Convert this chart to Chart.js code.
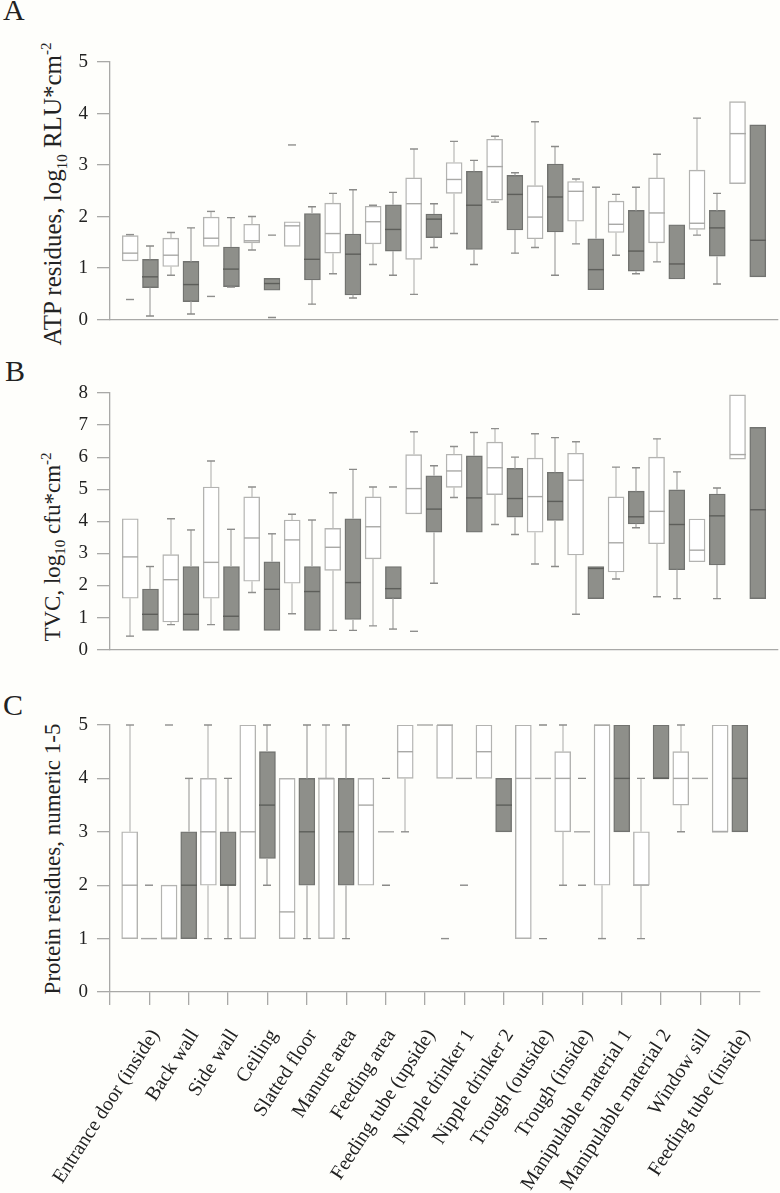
<!DOCTYPE html>
<html>
<head>
<meta charset="utf-8">
<script src="https://cdn.jsdelivr.net/npm/chart.js@4.4.1/dist/chart.umd.min.js"></script>
<style>
html,body{margin:0;padding:0;background:#fefefb;}
#wrap{position:relative;width:780px;height:1193px;overflow:hidden;font-family:"Liberation Serif","Times New Roman",serif;color:#222;background:#fefefb;}
canvas.cv{position:absolute;left:0;}
.letter{position:absolute;font-size:30px;line-height:30px;}
.ytitle{position:absolute;font-size:23px;line-height:23px;white-space:nowrap;transform:translate(-50%,-50%) rotate(-90deg);}
.ytitle sub,.ytitle sup{font-size:15px;line-height:0;}
</style>
</head>
<body>
<div id="wrap">
  <div class="letter" style="left:3px;top:-5px;">A</div>
  <div class="letter" style="left:5px;top:356px;">B</div>
  <div class="letter" style="left:3px;top:690px;">C</div>
  <div class="ytitle" style="left:52px;top:194px;font-size:25px;line-height:25px;">ATP residues, log<sub>10</sub> RLU*cm<sup>-2</sup></div>
  <div class="ytitle" style="left:52px;top:547px;">TVC, log<sub>10</sub> cfu*cm<sup>-2</sup></div>
  <div class="ytitle" style="left:52px;top:859px;">Protein residues, numeric 1-5</div>
  <canvas id="cA" class="cv" width="780" height="340" style="top:0px;"></canvas>
  <canvas id="cB" class="cv" width="780" height="330" style="top:340px;"></canvas>
  <canvas id="cC" class="cv" width="780" height="523" style="top:670px;"></canvas>
</div>
<script>
// ---------- categories ----------
const categories = ["Entrance door (inside)","Back wall","Side wall","Ceiling","Slatted floor","Manure area","Feeding area","Feeding tube (upside)","Nipple drinker 1","Nipple drinker 2","Trough (outside)","Trough (inside)","Manipulable material 1","Manipulable material 2","Window sill","Feeding tube (inside)"];

// ---------- Panel A: ATP residues ----------
const atpYTicks = [0,1,2,3,4,5];
const atpWhiteQ1  = [1.14,1.03,1.42,1.49,1.42,1.29,1.47,1.17,2.45,2.32,1.57,1.91,1.69,1.49,1.75,2.64];
const atpWhiteQ3  = [1.63,1.58,1.99,1.85,1.90,2.26,2.20,2.75,3.05,3.50,2.60,2.68,2.30,2.75,2.90,4.23];
const atpWhiteMed = [1.29,1.25,1.58,1.53,1.82,1.67,1.90,2.25,2.72,2.97,1.99,2.49,1.85,2.07,1.87,3.61];
const atpWhiteMin = [1.14,0.86,1.42,1.35,1.42,0.89,1.07,0.49,1.67,2.28,1.40,1.47,1.25,1.12,1.64,2.64];
const atpWhiteMax = [1.65,1.69,2.10,2.00,1.90,2.45,2.22,3.31,3.46,3.56,3.84,2.73,2.43,3.21,3.91,4.23];
const atpWhiteOut = [[0.39],[],[0.45],[],[3.39],[],[],[],[],[],[],[],[],[],[],[]];
const atpGrayQ1   = [0.62,0.35,0.64,0.57,0.77,0.48,1.33,1.59,1.36,1.74,1.70,0.58,0.94,0.79,1.23,0.83];
const atpGrayQ3   = [1.17,1.13,1.41,0.80,2.06,1.66,2.23,2.05,2.88,2.80,3.02,1.57,2.12,1.84,2.12,3.78];
const atpGrayMed  = [0.83,0.68,0.98,0.70,1.17,1.27,1.75,1.95,2.22,2.43,2.38,0.97,1.33,1.08,1.78,1.54];
const atpGrayMin  = [0.07,0.11,0.63,0.57,0.30,0.42,0.86,1.40,1.07,1.29,0.86,0.58,0.89,0.79,0.69,0.83];
const atpGrayMax  = [1.43,1.78,1.98,0.80,2.19,2.52,2.47,2.25,3.09,2.85,3.36,2.57,2.57,1.84,2.45,3.78];
const atpGrayOut  = [[],[],[],[1.64,0.04],[],[],[],[],[],[],[],[],[],[],[],[]];

// ---------- Panel B: TVC ----------
const tvcYTicks = [0,1,2,3,4,5,6,7,8];
const tvcWhiteQ1  = [1.60,0.86,1.60,2.13,2.07,2.47,2.83,4.23,5.06,4.83,3.66,2.95,2.42,3.30,2.74,5.94];
const tvcWhiteQ3  = [4.08,2.96,5.07,4.76,4.04,3.78,4.76,6.08,6.09,6.47,5.97,6.12,4.76,6.00,4.07,7.94];
const tvcWhiteMed = [2.89,2.18,2.72,3.48,3.42,3.19,3.83,5.02,5.57,5.67,4.77,5.28,3.33,4.31,3.10,6.08];
const tvcWhiteMin = [0.42,0.78,0.78,1.78,1.12,0.60,0.74,4.23,4.74,3.90,2.67,1.10,2.20,1.65,2.74,5.94];
const tvcWhiteMax = [4.08,4.08,5.88,5.07,4.22,4.89,5.07,6.79,6.33,6.89,6.73,6.48,5.69,6.57,4.07,7.94];
const tvcWhiteOut = [[],[],[],[],[],[],[],[0.57],[],[],[],[],[],[],[],[]];
const tvcGrayQ1   = [0.60,0.60,0.60,0.60,0.60,0.94,1.59,3.66,3.66,4.13,4.03,1.59,3.92,2.49,2.64,1.59];
const tvcGrayQ3   = [1.89,2.59,2.59,2.74,2.59,4.08,2.59,5.42,6.04,5.65,5.53,2.59,4.94,4.98,4.85,6.93];
const tvcGrayMed  = [1.10,1.10,1.04,1.88,1.81,2.09,1.90,4.38,4.73,4.71,4.62,2.53,4.14,3.90,4.17,4.36];
const tvcGrayMin  = [0.60,0.60,0.60,0.60,0.60,0.60,0.64,2.07,3.66,3.59,2.59,1.59,3.80,1.59,1.59,1.59];
const tvcGrayMax  = [2.59,3.73,3.75,3.61,4.04,5.62,2.59,5.73,6.77,6.00,6.61,2.59,5.67,5.54,5.04,6.93];
const tvcGrayOut  = [[],[],[],[],[],[],[5.07],[],[],[],[],[],[],[],[],[]];

// ---------- Panel C: Protein residues ----------
const protYTicks = [0,1,2,3,4,5];
const protWhiteQ1  = [1,1,2,1,1,1,2,4,4,4,1,3,2,2,3.5,3];
const protWhiteQ3  = [3,2,4,5,4,4,4,5,5,5,5,4.5,5,3,4.5,5];
const protWhiteMed = [2,1,3,3,1.5,4,3.5,4.5,5,4.5,4,4,5,2,4,3];
const protWhiteMin = [1,1,1,1,1,1,2,3,4,4,1,2,1,1,3,3];
const protWhiteMax = [5,2,5,5,4,5,4,5,5,5,5,5,5,4,5,5];
const protWhiteOut = [[],[5],[],[],[],[],[],[],[1],[],[],[],[],[],[],[]];
const protGrayQ1   = [1,1,2,2.5,2,2,3,5,4,3,4,3,3,4,4,3];
const protGrayQ3   = [1,3,3,4.5,4,4,3,5,4,4,4,3,5,5,4,5];
const protGrayMed  = [1,2,2,3.5,3,3,3,5,4,3.5,4,3,4,4,4,4];
const protGrayMin  = [1,1,1,2,1,1,3,5,4,3,4,3,3,4,4,3];
const protGrayMax  = [1,4,4,5,5,5,3,5,4,4,4,3,5,5,4,5];
const protGrayOut  = [[2],[],[],[],[],[],[4,2],[],[2],[],[5,1],[4,2],[],[],[],[]];

// ---------- styles ----------
const FONT = '"Liberation Serif","Times New Roman",serif';
Chart.defaults.font.family = FONT;
Chart.defaults.color = '#2a2a2a';
const AXIS = '#a9a9a7';
const whiteStyle = {fill:'#ffffff', border:'#b3b3b1', med:'#a9a9a7', whisk:'#c2c2c0', cap:'#8f8f8d', flat:'#b0b0ae'};
const grayStyle  = {fill:'#8e8f8a', border:'#727370', med:'#5d5e5a', whisk:'#b0b0ae', cap:'#8a8a88', flat:'#a6a6a4'};

function boxDataset(label, q1, q3, med, mn, mx, out, offset, st){
  return {
    label: label,
    data: q1.map((v,i)=>({x: i + offset, y: [v, q3[i]]})),
    med: med, mn: mn, mx: mx, out: out, st: st,
    backgroundColor: st.fill,
    borderColor: st.border,
    borderWidth: 1.4,
    borderSkipped: false,
    barThickness: 16,
    grouped: false
  };
}

const whiskerPlugin = {
  id: 'whiskers',
  afterDatasetsDraw(chart){
    const ctx = chart.ctx, xs = chart.scales.x, ys = chart.scales.y;
    ctx.save();
    ctx.lineWidth = 1.4;
    chart.data.datasets.forEach(ds=>{
      const st = ds.st;
      ds.data.forEach((d,i)=>{
        const cx = Math.round(xs.getPixelForValue(d.x));
        const q1 = d.y[0], q3 = d.y[1];
        const py = v => ys.getPixelForValue(v);
        // whisker stems
        ctx.strokeStyle = st.whisk;
        ctx.beginPath();
        if (ds.mx[i] > q3){ ctx.moveTo(cx, py(q3)); ctx.lineTo(cx, py(ds.mx[i])); }
        if (ds.mn[i] < q1){ ctx.moveTo(cx, py(q1)); ctx.lineTo(cx, py(ds.mn[i])); }
        ctx.stroke();
        // caps
        ctx.strokeStyle = st.cap;
        ctx.beginPath();
        if (ds.mx[i] > q3){ ctx.moveTo(cx-4, py(ds.mx[i])); ctx.lineTo(cx+4, py(ds.mx[i])); }
        if (ds.mn[i] < q1){ ctx.moveTo(cx-4, py(ds.mn[i])); ctx.lineTo(cx+4, py(ds.mn[i])); }
        ctx.stroke();
        // outliers
        ctx.strokeStyle = st.cap;
        ctx.beginPath();
        (ds.out[i]||[]).forEach(o=>{ ctx.moveTo(cx-4, py(o)); ctx.lineTo(cx+4, py(o)); });
        ctx.stroke();
        // median
        ctx.strokeStyle = (q1 === q3) ? st.flat : st.med;
        ctx.beginPath();
        ctx.moveTo(cx-8, py(ds.med[i])); ctx.lineTo(cx+8, py(ds.med[i]));
        ctx.stroke();
      });
    });
    ctx.restore();
  }
};

function makePanel(id, yTicks, white, gray, cfg){
  const yMax = yTicks[yTicks.length-1];
  const ds = [
    boxDataset('Group 1', ...white, 0.5, whiteStyle),
    boxDataset('Group 2', ...gray, 1, grayStyle)
  ];
  return new Chart(document.getElementById(id), {
    type: 'bar',
    data: { datasets: ds },
    plugins: [whiskerPlugin],
    options: {
      responsive: false,
      animation: false,
      devicePixelRatio: 1,
      layout: { padding: { top: cfg.top, right: 2, left: 0, bottom: 0 } },
      plugins: { legend: { display: false }, tooltip: { enabled: false } },
      scales: {
        x: {
          type: 'linear', min: 0, max: 16.5, offset: false,
          afterFit: s => { s.height = cfg.xh; },
          border: { display: true, color: AXIS, width: 1.3 },
          grid: { display: cfg.labels, drawOnChartArea: false, drawTicks: true, tickLength: 13, color: AXIS, lineWidth: 1.3, offset: false },
          ticks: {
            display: cfg.labels, stepSize: 1, autoSkip: false, includeBounds: false,
            minRotation: 57, maxRotation: 57, padding: 20, labelOffset: 6,
            font: { size: 20, family: FONT }, color: '#222',
            callback: v => (Number.isInteger(v) && v >= 1 && v <= 16) ? categories[v-1] : ''
          }
        },
        y: {
          type: 'linear', min: 0, max: yMax,
          afterFit: s => { s.width = 110; },
          border: { display: true, color: AXIS, width: 1.3 },
          grid: { drawOnChartArea: false, drawTicks: true, tickLength: 13, color: AXIS, lineWidth: 1.3 },
          ticks: {
            stepSize: 1, padding: 9, font: { size: 19, family: FONT }, color: '#222',
            callback: v => yTicks.includes(v) ? String(v) : ''
          }
        }
      }
    }
  });
}

makePanel('cA', atpYTicks,
  [atpWhiteQ1, atpWhiteQ3, atpWhiteMed, atpWhiteMin, atpWhiteMax, atpWhiteOut],
  [atpGrayQ1, atpGrayQ3, atpGrayMed, atpGrayMin, atpGrayMax, atpGrayOut],
  {top: 62, xh: 11, labels: false});
makePanel('cB', tvcYTicks,
  [tvcWhiteQ1, tvcWhiteQ3, tvcWhiteMed, tvcWhiteMin, tvcWhiteMax, tvcWhiteOut],
  [tvcGrayQ1, tvcGrayQ3, tvcGrayMed, tvcGrayMin, tvcGrayMax, tvcGrayOut],
  {top: 53, xh: 9, labels: false});
makePanel('cC', protYTicks,
  [protWhiteQ1, protWhiteQ3, protWhiteMed, protWhiteMin, protWhiteMax, protWhiteOut],
  [protGrayQ1, protGrayQ3, protGrayMed, protGrayMin, protGrayMax, protGrayOut],
  {top: 55, xh: 201, labels: true});
</script>
</body>
</html>
